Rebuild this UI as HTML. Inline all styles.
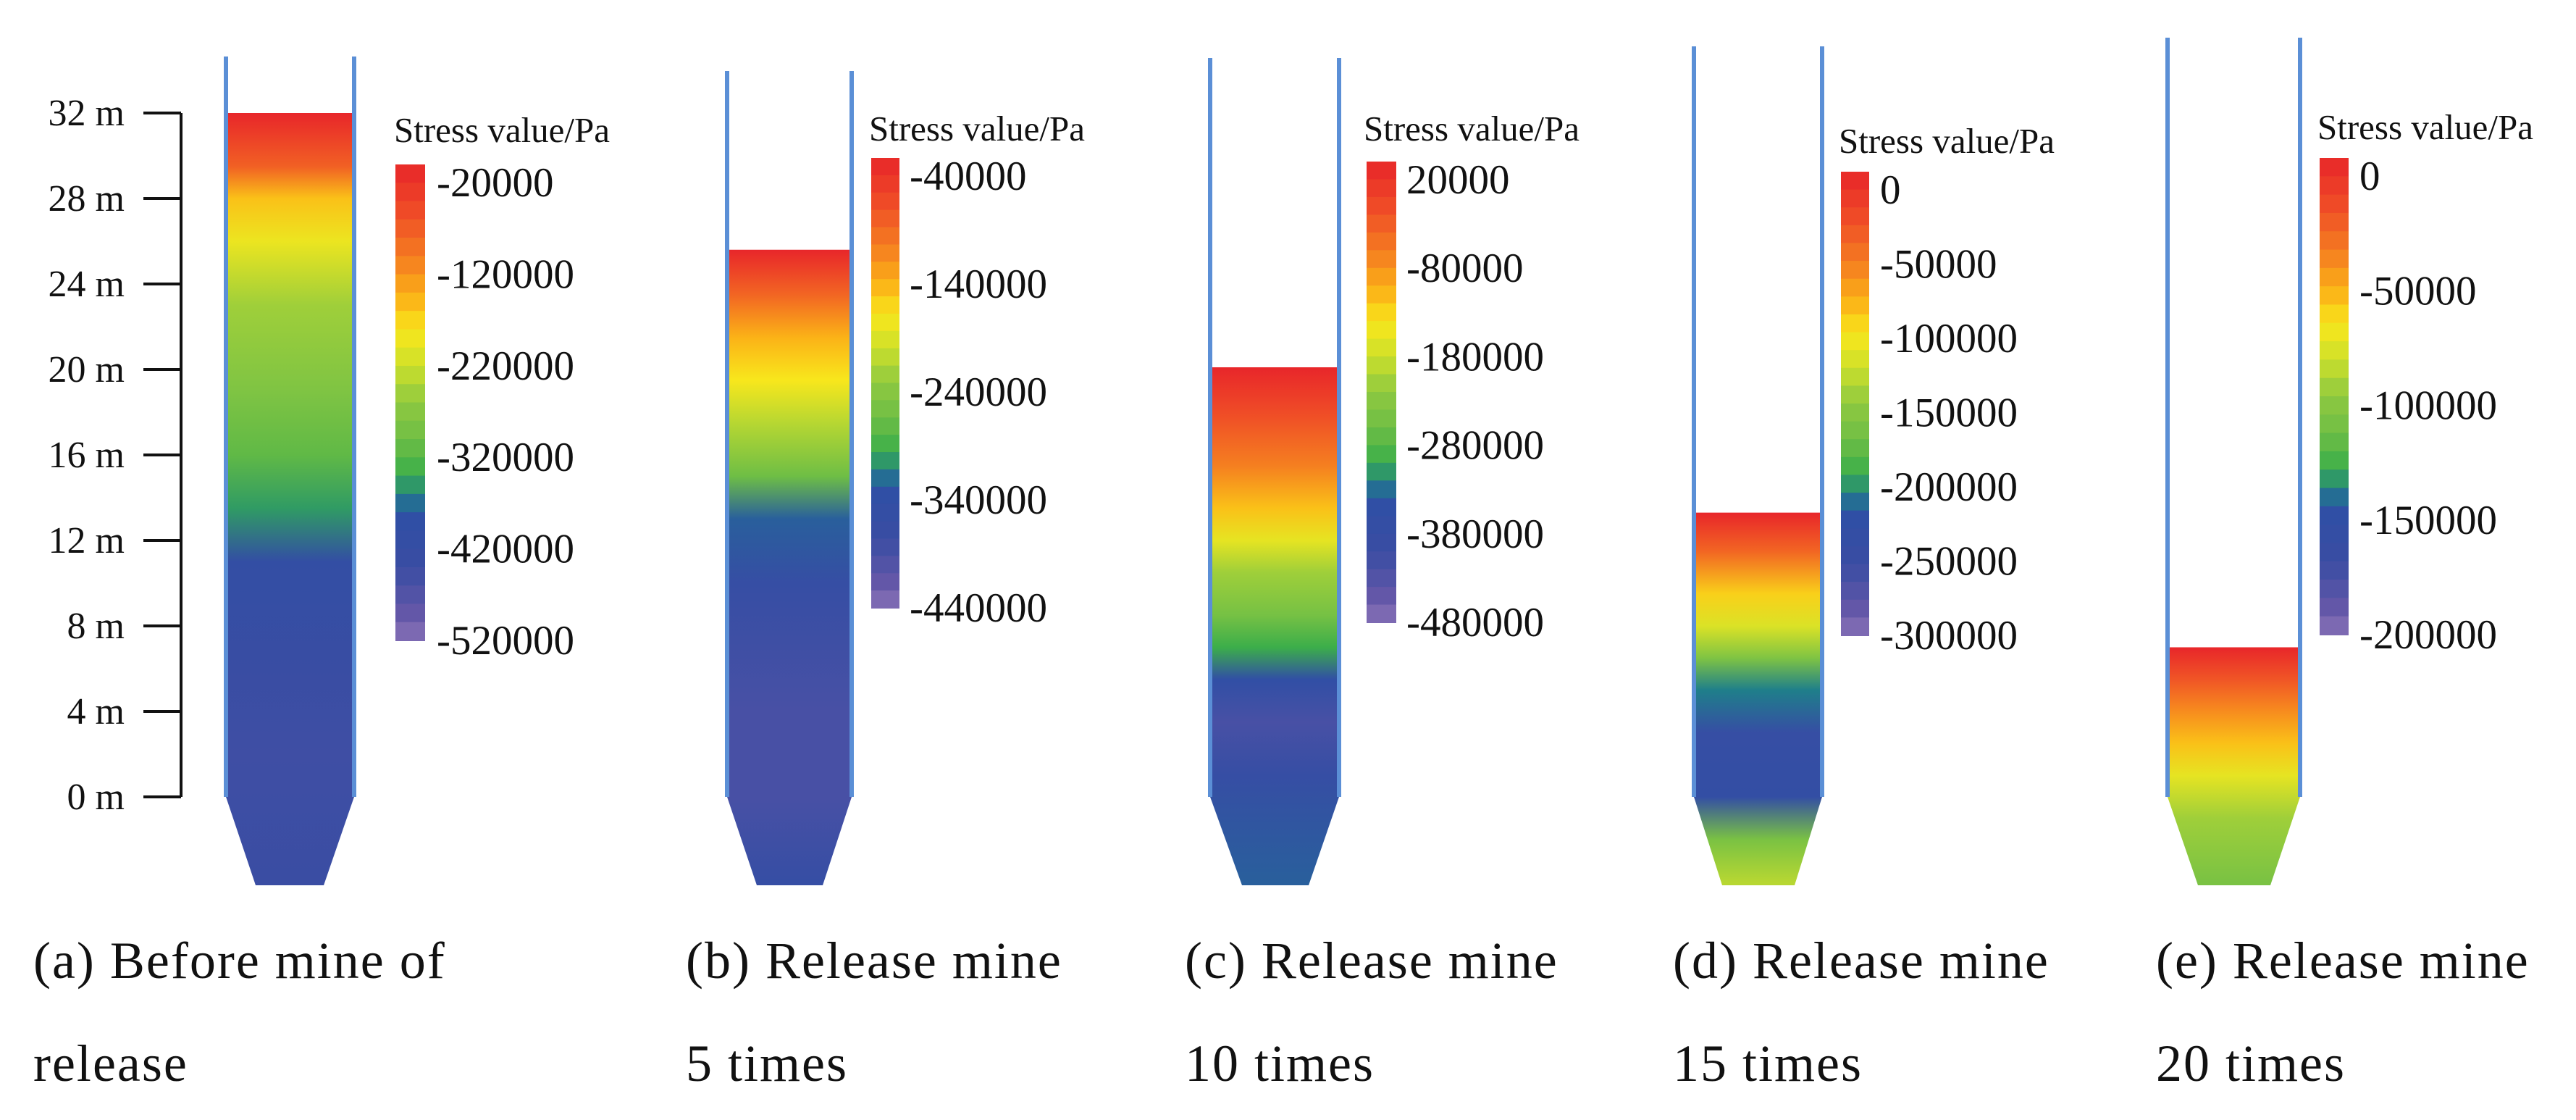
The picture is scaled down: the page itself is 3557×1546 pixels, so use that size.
<!DOCTYPE html>
<html><head><meta charset="utf-8">
<style>
html,body{margin:0;padding:0;background:#fff;}
body{width:3557px;height:1546px;overflow:hidden;position:relative;}
svg{position:absolute;left:0;top:0;}
</style></head>
<body>
<svg id="fig" width="3557" height="1546" viewBox="0 0 3557 1546" xmlns="http://www.w3.org/2000/svg" font-family="'Liberation Serif', 'DejaVu Serif', serif"></svg>
<script>
// ---- data ----
const heightTicks = [0, 4, 8, 12, 16, 20, 24, 28, 32];
const panelIds = ['a', 'b', 'c', 'd', 'e'];
const fillHeights = [32, 25.6, 20.1, 13.3, 7.0];           // material surface height (m)
const ticksA = [-20000, -120000, -220000, -320000, -420000, -520000];
const ticksB = [-40000, -140000, -240000, -340000, -440000];
const ticksC = [20000, -80000, -180000, -280000, -380000, -480000];
const ticksD = [0, -50000, -100000, -150000, -200000, -250000, -300000];
const ticksE = [0, -50000, -100000, -150000, -200000];
// field profiles: [height (m, top->bottom, negative = hopper), normalized level 1=red ... 0=purple]
const fieldA = [[32,1],[29.5,0.86],[28,0.7],[26,0.63],[23,0.52],[19,0.46],[16,0.4],[13.5,0.33],[11,0.22],[6,0.17],[2,0.14],[-4,0.16]];
const fieldB = [[25.6,1],[23.5,0.85],[21.5,0.72],[19.5,0.65],[17.5,0.55],[15,0.42],[13,0.28],[10,0.2],[4,0.12],[0,0.12],[-4,0.2]];
const fieldC = [[20.1,1],[18,0.9],[15.5,0.8],[13.5,0.7],[12,0.62],[10.5,0.52],[8.5,0.44],[7,0.35],[5.5,0.24],[3.5,0.12],[1,0.2],[-4,0.28]];
const fieldD = [[13.3,1],[11.5,0.85],[9.5,0.68],[8,0.6],[6.5,0.46],[5,0.3],[3,0.2],[0,0.22],[-2,0.45],[-4,0.55]];
const fieldE = [[7.0,1],[5.5,0.88],[4,0.78],[2.5,0.7],[1,0.62],[-1,0.52],[-4,0.45]];
// ---- layout ----
const NS = 'http://www.w3.org/2000/svg';
const svg = document.getElementById('fig');
const y0 = 1100, pxPerM = (1100 - 156) / 32;
const yScale = m => y0 - m * pxPerM;
const hopperBottom = 1222;
const geo = [
  {l:312,r:489,wallTop:78,hb:[353,447],cb:[546,587,227,884],lx:603,tx:544,ty:180,cx:46,ticks:ticksA,field:fieldA,cap:['(a) Before mine of','release']},
  {l:1004,r:1176,wallTop:98,hb:[1045,1136],cb:[1203,1242,218,839],lx:1256,tx:1200,ty:178,cx:947,ticks:ticksB,field:fieldB,cap:['(b) Release mine','5 times']},
  {l:1671,r:1849,wallTop:80,hb:[1715,1807],cb:[1887,1928,223,859],lx:1942,tx:1883,ty:178,cx:1636,ticks:ticksC,field:fieldC,cap:['(c) Release mine','10 times']},
  {l:2339,r:2516,wallTop:64,hb:[2378,2478],cb:[2542,2581,237,877],lx:2596,tx:2539,ty:195,cx:2310,ticks:ticksD,field:fieldD,cap:['(d) Release mine','15 times']},
  {l:2993,r:3176,wallTop:52,hb:[3035,3135],cb:[3203,3243,218,876],lx:3258,tx:3200,ty:176,cx:2977,ticks:ticksE,field:fieldE,cap:['(e) Release mine','20 times']}
];
const cmapStops = [[1,[232,38,42]],[0.9,[239,75,39]],[0.8,[245,127,32]],[0.72,[251,178,23]],[0.65,[248,231,28]],[0.58,[207,224,42]],[0.5,[143,201,64]],[0.42,[110,190,69]],[0.35,[60,174,74]],[0.3,[31,127,138]],[0.27,[46,79,165]],[0.15,[59,77,163]],[0.05,[102,88,168]],[0,[138,116,184]]];
function cmap(t){
  t=Math.max(0,Math.min(1,t));
  for(let i=0;i<cmapStops.length-1;i++){
    const [a,ca]=cmapStops[i],[b,cb]=cmapStops[i+1];
    if(t<=a&&t>=b){const f=(a-t)/(a-b);const c=ca.map((v,k)=>Math.round(v+(cb[k]-v)*f));return `rgb(${c[0]},${c[1]},${c[2]})`;}
  }
  return 'rgb(138,116,184)';
}
function el(tag, attrs, parent){const e=document.createElementNS(NS,tag);for(const k in attrs)e.setAttribute(k,attrs[k]);(parent||svg).appendChild(e);return e;}
const defs = el('defs',{});
const FONT = "'Liberation Serif', 'DejaVu Serif', serif";

// height axis
const axis = el('g',{});


el('line',{x1:250,x2:250,y1:yScale(32),y2:yScale(0),stroke:'#111','stroke-width':4},axis);
heightTicks.forEach(h=>{
  const y=yScale(h);
  const t=el('line',{x1:198,x2:250,y1:y,y2:y,stroke:'#111','stroke-width':4},axis);
  
  
  const lb=el('text',{x:172,y:y+17,'text-anchor':'end','font-size':52,'font-family':FONT,fill:'#111'},axis);
  
  
  lb.textContent=h+' m';
});

geo.forEach((g,i)=>{
  const grp=el('g',{});
  
  
  const topY=yScale(fillHeights[i]);
  const cylB=yScale(0);
  const gid='grad'+i;
  const lg=el('linearGradient',{id:gid,x1:0,y1:topY,x2:0,y2:hopperBottom,gradientUnits:'userSpaceOnUse'},defs);
  g.field.forEach(([h,v])=>{
    const y=yScale(h);
    const off=Math.max(0,Math.min(1,(y-topY)/(hopperBottom-topY)));
    el('stop',{offset:off,'stop-color':cmap(v)},lg);
  });
  const pts=`${g.l},${topY} ${g.r},${topY} ${g.r},${cylB} ${g.hb[1]},${hopperBottom} ${g.hb[0]},${hopperBottom} ${g.l},${cylB}`;
  const f=el('polygon',{points:pts,fill:`url(#${gid})`},grp);
  
  
  [g.l,g.r].forEach(x=>{
    const w=el('line',{x1:x,x2:x,y1:g.wallTop,y2:cylB,stroke:'#5b8fd6','stroke-width':6},grp);
    
    
  });
  const [cx0,cx1,cy0,cy1]=g.cb;
  const nb=26;
  for(let k=0;k<nb;k++){
    const r=el('rect',{x:cx0,y:cy0+(cy1-cy0)*k/nb,width:cx1-cx0,height:(cy1-cy0)/nb+1,fill:cmap(1-(k+0.5)/nb)},grp);
    
    
  }
  const tt=el('text',{x:g.tx,y:g.ty+16,'font-size':49,'font-family':FONT,fill:'#111'},grp);
  
  
  tt.textContent='Stress value/Pa';
  const n=g.ticks.length;
  const tmax=g.ticks[0], tmin=g.ticks[n-1];
  const labTop=cy0+25, labBot=cy1;
  g.ticks.forEach(v=>{
    const y=labTop+(tmax-v)/(tmax-tmin)*(labBot-labTop);
    const t=el('text',{x:g.lx,y:y+19,'font-size':57,'font-family':FONT,fill:'#111'},grp);
    
    
    t.textContent=v;
  });
  g.cap.forEach((line,j)=>{
    const c=el('text',{x:g.cx,y:1350+j*142,'font-size':72,'letter-spacing':2,'font-family':FONT,fill:'#111'},grp);
    
    
    c.textContent=line;
  });
});
</script>
</body></html>
